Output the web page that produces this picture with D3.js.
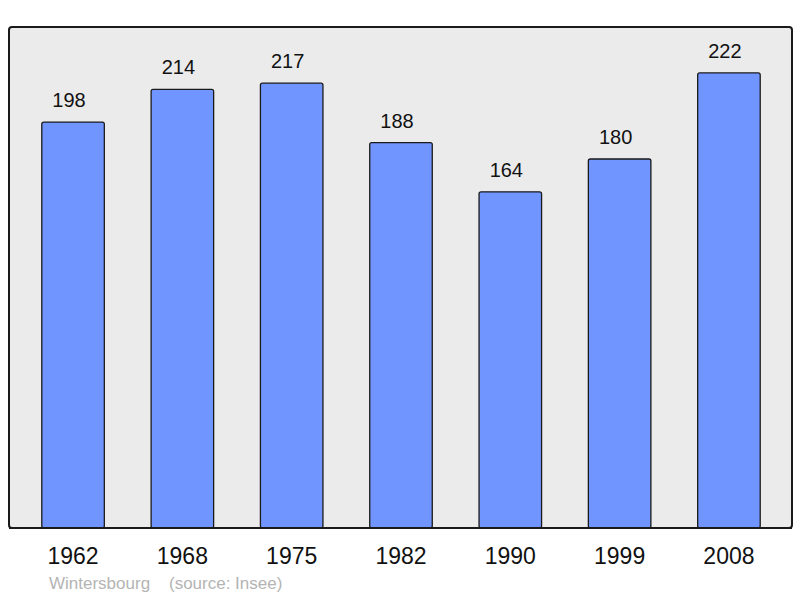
<!DOCTYPE html>
<html lang="fr">
<head>
<meta charset="utf-8">
<title>Wintersbourg population</title>
<style>
    body { margin: 0; background: #fff; }
    text { font-family: "Liberation Sans", Arial, sans-serif; }
    .value { font-size: 20px; fill: #111; text-anchor: middle; }
    .year { font-size: 23px; fill: #111; text-anchor: middle; }
    .source { font-size: 17px; fill: #b4b4b4; }
</style>
</head>
<body>
<script src="https://d3js.org/d3.v7.min.js"></script>
<script>
    // data
    var years = ["1962", "1968", "1975", "1982", "1990", "1999", "2008"];
    var population = [198, 214, 217, 188, 164, 180, 222];
    var commune = "Wintersbourg";
    var source = "(source: Insee)";

    var width = 800, height = 598;
    var panel = {left: 9, top: 27, right: 792, bottom: 528};

    var svg = d3.select("body").append("svg")
        .attr("width", width)
        .attr("height", height);

    var x = d3.scaleBand()
        .domain(years)
        .range([panel.left, panel.right + 1])
        .paddingInner(0.428)
        .paddingOuter(0.3);

    var y = d3.scaleLinear()
        .domain([0, 244.4])
        .range([panel.bottom, panel.top]);

    // grey background panel
    svg.append("rect")
        .attr("x", panel.left)
        .attr("y", panel.top)
        .attr("width", panel.right - panel.left)
        .attr("height", panel.bottom - panel.top)
        .attr("rx", 3)
        .attr("fill", "#ebebeb")
        .attr("stroke", "#1a1a1a")
        .attr("stroke-width", 2);

    var data = years.map(function(d, i) { return {year: d, value: population[i]}; });

    svg.append("g").selectAll("rect")
        .data(data)
        .enter().append("rect")
        .attr("x", function(d) { return x(d.year); })
        .attr("y", function(d) { return y(d.value); })
        .attr("width", x.bandwidth())
        .attr("height", function(d) { return y(0) - y(d.value); })
        .attr("rx", 2)
        .attr("fill", "#7095ff")
        .attr("stroke", "#1a1a1a")
        .attr("stroke-width", 1.3);

    // redraw the bottom edge so it sits over the bars
    svg.append("line")
        .attr("x1", panel.left).attr("x2", panel.right)
        .attr("y1", panel.bottom).attr("y2", panel.bottom)
        .attr("stroke", "#1a1a1a")
        .attr("stroke-width", 2);

    svg.append("g").selectAll("text")
        .data(data)
        .enter().append("text")
        .attr("class", "value")
        .attr("x", function(d) { return x(d.year) + x.bandwidth() / 2 - 4; })
        .attr("y", function(d) { return y(d.value) - 15; })
        .text(function(d) { return d.value; });

    svg.append("g").selectAll("text")
        .data(years)
        .enter().append("text")
        .attr("class", "year")
        .attr("x", function(d) { return x(d) + x.bandwidth() / 2; })
        .attr("y", 564)
        .text(function(d) { return d; });

    svg.append("text")
        .attr("class", "source")
        .attr("x", 49)
        .attr("y", 589)
        .attr("xml:space", "preserve")
        .text(commune + "    " + source);
</script>
</body>
</html>
